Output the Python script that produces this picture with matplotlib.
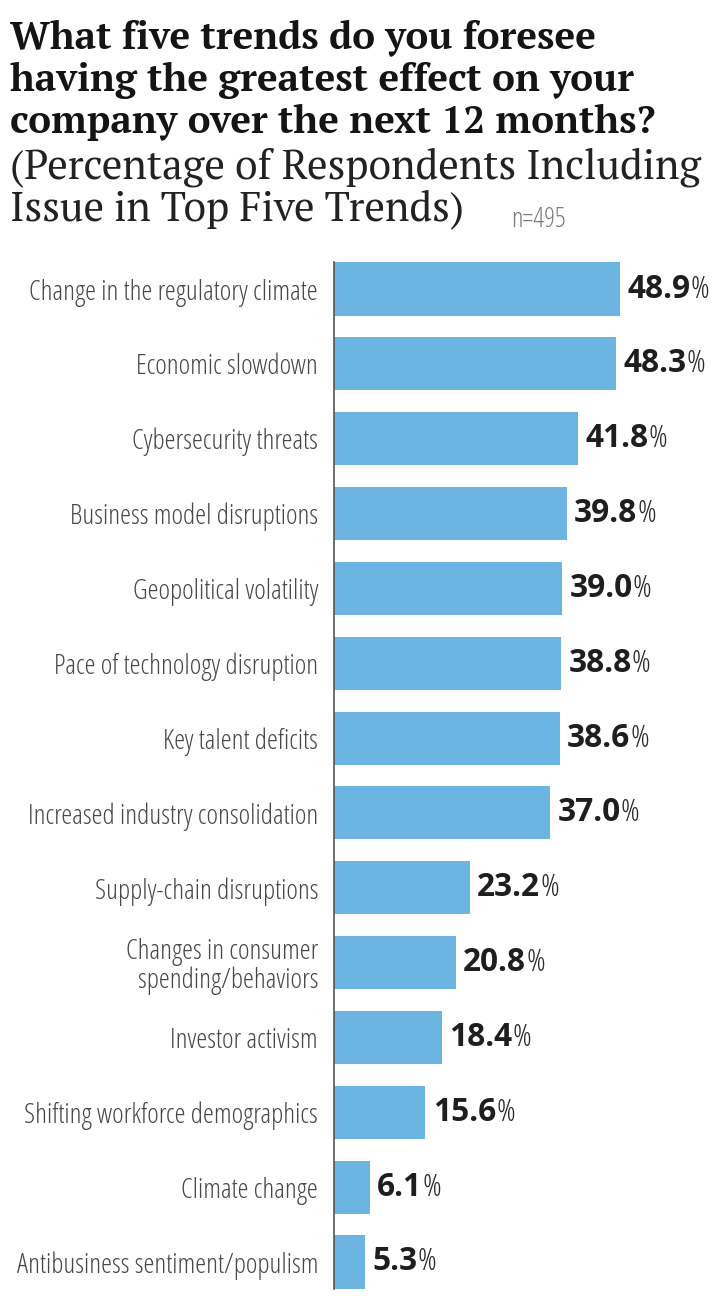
import matplotlib
matplotlib.use("Agg")
import matplotlib.pyplot as plt
from matplotlib import font_manager
from matplotlib.font_manager import FontProperties

categories = [
    "Change in the regulatory climate",
    "Economic slowdown",
    "Cybersecurity threats",
    "Business model disruptions",
    "Geopolitical volatility",
    "Pace of technology disruption",
    "Key talent deficits",
    "Increased industry consolidation",
    "Supply-chain disruptions",
    "Changes in consumer\nspending/behaviors",
    "Investor activism",
    "Shifting workforce demographics",
    "Climate change",
    "Antibusiness sentiment/populism",
]
values = [48.9, 48.3, 41.8, 39.8, 39.0, 38.8, 38.6, 37.0, 23.2, 20.8, 18.4, 15.6, 6.1, 5.3]
value_labels = ["48.9", "48.3", "41.8", "39.8", "39.0", "38.8", "38.6", "37.0",
                "23.2", "20.8", "18.4", "15.6", "6.1", "5.3"]
title_lines = [
    "What five trends do you foresee",
    "having the greatest effect on your",
    "company over the next 12 months?",
]
sub_lines = ["(Percentage of Respondents Including", "Issue in Top Five Trends)"]
note = "n=495"

TTF = font_manager.fontManager.ttflist


def _w(f):
    try:
        return int(f.weight)
    except (TypeError, ValueError):
        return {"light": 300, "normal": 400, "regular": 400, "bold": 700}.get(str(f.weight), 400)


def find_font(prefs, fallback_family, fallback_weight):
    for name, stretch, lo, hi in prefs:
        c = [f for f in TTF if f.name == name and f.style == "normal"
             and (stretch is None or f.stretch == stretch) and lo <= _w(f) <= hi
             and "[" not in f.fname]
        if c:
            c.sort(key=lambda f: abs(_w(f) - (lo + hi) / 2))
            return FontProperties(fname=c[0].fname)
    return FontProperties(family=fallback_family, weight=fallback_weight)


fp_title = find_font([("Merriweather", None, 650, 800), ("PT Serif", "normal", 650, 800),
                      ("DejaVu Serif", "normal", 650, 800)], "DejaVu Serif", "bold")
fp_sub = find_font([("Merriweather", None, 350, 450), ("PT Serif", "normal", 350, 450),
                    ("DejaVu Serif", "normal", 350, 450)], "DejaVu Serif", "normal")
fp_cond = find_font([("Open Sans Condensed", None, 250, 350), ("Open Sans", "condensed", 250, 350),
                     ("Roboto Condensed", None, 250, 350), ("Fira Sans Condensed", None, 250, 350),
                     ("Barlow Condensed", None, 250, 350), ("DejaVu Sans", "condensed", 400, 400)],
                    "DejaVu Sans", "normal")
fp_bold = find_font([("Open Sans", "normal", 650, 750), ("Open Sans", None, 650, 750)],
                    "DejaVu Sans", "bold")

W, H = 722, 1306
fig = plt.figure(figsize=(W / 100, H / 100), dpi=100)
renderer = fig.canvas.get_renderer()


def fit(t, target_px):
    bb = t.get_window_extent(renderer)
    t.set_fontsize(t.get_fontsize() * target_px / bb.width)


top_px, bot_px = 251.6, 1299.4
ax = fig.add_axes([334 / W, 1 - bot_px / H, (W - 334) / W, (bot_px - top_px) / H])

ypos = list(range(len(categories)))
ax.barh(ypos, values, height=0.71, color="#6CB5E2", zorder=2)
ax.set_xlim(0, 66.4)
ax.set_ylim(13.5, -0.5)
ax.set_xticks([])
ax.set_yticks(ypos)
ax.set_yticklabels(categories)
ax.tick_params(axis="y", length=0, pad=11.5)
for s in ["top", "right", "bottom"]:
    ax.spines[s].set_visible(False)
ax.spines["left"].set_color("#555555")
ax.spines["left"].set_linewidth(1.2)
ax.spines["left"].set_bounds(-0.36, 13.36)

probe = fig.text(0, 0, categories[0], fontproperties=fp_cond, fontsize=14)
fit(probe, 290)
label_size = probe.get_fontsize()
probe.remove()
for lbl in ax.get_yticklabels():
    lbl.set_fontproperties(fp_cond)
    lbl.set_fontsize(label_size)
    lbl.set_color("#484848")
    lbl.set_linespacing(1.05)
    lbl.set_horizontalalignment("right")

probe = fig.text(0, 0, value_labels[0], fontproperties=fp_bold, fontsize=19)
fit(probe, 63)
val_size = probe.get_fontsize()
probe.remove()
for y, v, lab in zip(ypos, values, value_labels):
    t = ax.text(v + 1.3, y, lab, fontproperties=fp_bold, fontsize=val_size,
                color="#1e1e1e", va="center", ha="left")
    ax.annotate("%", xy=(1, 0), xycoords=t, va="bottom", ha="left",
                fontproperties=fp_cond, fontsize=val_size, color="#2a2a2a")

baselines_title = [48, 91, 133]
t0 = fig.text(10 / W, 1 - baselines_title[0] / H, title_lines[0], fontproperties=fp_title,
              fontsize=24, color="#141414", va="baseline", ha="left")
fit(t0, 587)
tsize = t0.get_fontsize()
for b, line in zip(baselines_title[1:], title_lines[1:]):
    fig.text(10 / W, 1 - b / H, line, fontproperties=fp_title, fontsize=tsize,
             color="#141414", va="baseline", ha="left")

baselines_sub = [178, 220]
s0 = fig.text(10 / W, 1 - baselines_sub[0] / H, sub_lines[0], fontproperties=fp_sub,
              fontsize=24, color="#222222", va="baseline", ha="left")
fit(s0, 693)
fig.text(10 / W, 1 - baselines_sub[1] / H, sub_lines[1], fontproperties=fp_sub,
         fontsize=s0.get_fontsize(), color="#222222", va="baseline", ha="left")

n = fig.text(511 / W, 1 - 227 / H, note, fontproperties=fp_cond, fontsize=12,
             color="#7a7a7a", va="baseline", ha="left")
fit(n, 54)

fig.savefig("out.png", dpi=100)
